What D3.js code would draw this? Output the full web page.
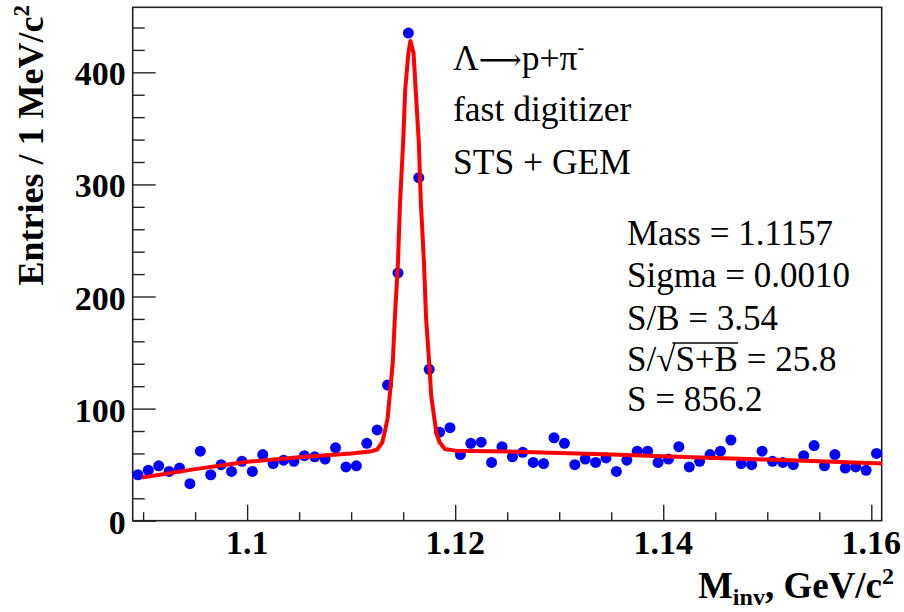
<!DOCTYPE html>
<html>
<head>
<meta charset="utf-8">
<script src="https://cdn.jsdelivr.net/npm/d3@7"></script>
<style>
  body { margin: 0; background: #fff; }
  svg { display: block; }
  text { font-family: "Liberation Serif", "Times New Roman", serif; fill: #000; }
</style>
</head>
<body>
<svg width="904" height="612"></svg>
<script>
// invariant mass bin centres (GeV/c^2), 1 MeV bins
var binMass = [
    1.0895, 1.0905, 1.0915, 1.0925, 1.0935, 1.0945, 1.0955, 1.0965, 1.0975, 1.0985,
    1.0995, 1.1005, 1.1015, 1.1025, 1.1035, 1.1045, 1.1055, 1.1065, 1.1075, 1.1085,
    1.1095, 1.1105, 1.1115, 1.1125, 1.1135, 1.1145, 1.1155, 1.1165, 1.1175, 1.1185,
    1.1195, 1.1205, 1.1215, 1.1225, 1.1235, 1.1245, 1.1255, 1.1265, 1.1275, 1.1285,
    1.1295, 1.1305, 1.1315, 1.1325, 1.1335, 1.1345, 1.1355, 1.1365, 1.1375, 1.1385,
    1.1395, 1.1405, 1.1415, 1.1425, 1.1435, 1.1445, 1.1455, 1.1465, 1.1475, 1.1485,
    1.1495, 1.1505, 1.1515, 1.1525, 1.1535, 1.1545, 1.1555, 1.1565, 1.1575, 1.1585,
    1.1595, 1.1605
];

var binEntries = [
    41, 45, 49, 44, 47, 33, 62, 41, 50, 44,
    53, 44, 59, 51, 54, 53, 58, 57, 55, 65,
    48, 49, 69, 81, 121, 221, 435, 306, 135, 79,
    83, 59, 69, 70, 52, 66, 57, 61, 52, 51,
    74, 69, 50, 55, 52, 56, 44, 54, 62, 62,
    52, 55, 66, 48, 53, 59, 62, 72, 51, 50,
    62, 53, 52, 50, 58, 67, 49, 59, 47, 48,
    45, 60
];

// fit curve
var fitMass = [
    1.0899, 1.0950, 1.1000, 1.1050, 1.1100, 1.1120, 1.1125, 1.1130, 1.1132, 1.1135,
    1.1137, 1.1140, 1.1142, 1.1145, 1.1147, 1.1150, 1.1152, 1.1155, 1.1157, 1.1160,
    1.1162, 1.1165, 1.1167, 1.1170, 1.1172, 1.1175, 1.1177, 1.1180, 1.1182, 1.1185,
    1.1190, 1.1200, 1.1250, 1.1300, 1.1350, 1.1400, 1.1450, 1.1500, 1.1550, 1.1610
];
var fitEntries = [
    38.5, 46, 52.5, 56.5, 60, 62, 63.5, 70, 78, 91,
    111, 141, 181, 230, 284, 338, 385, 417, 428, 417,
    385, 338, 284, 230, 181, 141, 111, 91, 78, 70,
    64, 62.5, 61.8, 60.5, 59, 57.5, 56, 54.5, 53, 51
];

var xMajor = [1.10, 1.12, 1.14, 1.16];
var xMinor = [1.09, 1.095, 1.105, 1.11, 1.115, 1.125, 1.13, 1.135, 1.145, 1.15, 1.155];
var yMajor = [0, 100, 200, 300, 400];

var decayLines = ["fast digitizer", "STS + GEM"];
var fitResults = ["Mass = 1.1157", "Sigma = 0.0010", "S/B = 3.54", "S/\u221AS+B = 25.8", "S = 856.2"];

var svg = d3.select("svg");

var frame = { left: 132.7, top: 7.3, right: 881.7, bottom: 520.7 };

var x = d3.scaleLinear().domain([1.089, 1.161]).range([frame.left, frame.right]);
var y = d3.scaleLinear().domain([0, 458]).range([frame.bottom, frame.top]);

var g = svg.append("g");

// axes: ticks pointing inward like ROOT
var xAxisMajor = d3.axisTop(x).tickValues(xMajor).tickSize(16).tickFormat("");
var xAxisMinor = d3.axisTop(x).tickValues(xMinor).tickSize(8.5).tickFormat("");
var yAxisMajor = d3.axisRight(y).tickValues(yMajor).tickSize(23).tickFormat("");
var yAxisMinor = d3.axisRight(y).tickValues(d3.range(20, 460, 20).filter(function (d) { return d % 100 !== 0; }))
    .tickSize(12).tickFormat("");

[xAxisMajor, xAxisMinor].forEach(function (ax) {
    g.append("g").attr("transform", "translate(0," + frame.bottom + ")").call(ax)
        .call(function (s) { s.select(".domain").remove(); });
});
[yAxisMajor, yAxisMinor].forEach(function (ax) {
    g.append("g").attr("transform", "translate(" + frame.left + ",0)").call(ax)
        .call(function (s) { s.select(".domain").remove(); });
});
g.selectAll(".tick line").attr("stroke", "#222").attr("stroke-width", 1.4);

g.append("rect")
    .attr("x", frame.left).attr("y", frame.top)
    .attr("width", frame.right - frame.left).attr("height", frame.bottom - frame.top)
    .attr("fill", "none").attr("stroke", "#222").attr("stroke-width", 1.6);

// tick labels
g.selectAll(".xlab")
    .data(xMajor)
    .enter().append("text")
    .attr("x", function (d) { return x(d); })
    .attr("y", frame.bottom + 33)
    .attr("text-anchor", "middle")
    .attr("font-size", 34)
    .attr("font-weight", "bold")
    .text(function (d) { return d3.format("")(+d.toFixed(2)); });

g.selectAll(".ylab")
    .data(yMajor)
    .enter().append("text")
    .attr("x", frame.left - 7)
    .attr("y", function (d) { return y(d) + 13; })
    .attr("text-anchor", "end")
    .attr("font-size", 34)
    .attr("font-weight", "bold")
    .text(function (d) { return d; });

// axis titles
var yTitle = g.append("text")
    .attr("transform", "translate(43,5) rotate(-90)")
    .attr("text-anchor", "end")
    .attr("font-size", 36)
    .attr("font-weight", "bold");
yTitle.append("tspan").text("Entries / 1 MeV/c");
yTitle.append("tspan").attr("font-size", 23).attr("dy", -14).text("2");

var xTitle = g.append("text")
    .attr("x", 894).attr("y", 598)
    .attr("text-anchor", "end")
    .attr("font-size", 37)
    .attr("font-weight", "bold");
xTitle.append("tspan").text("M");
xTitle.append("tspan").attr("font-size", 24).attr("dy", 7).text("inv");
xTitle.append("tspan").attr("dy", -7).text(", GeV/c");
xTitle.append("tspan").attr("font-size", 24).attr("dy", -14).text("2");

// data points
g.append("g")
    .selectAll("circle")
    .data(binMass)
    .enter().append("circle")
    .attr("cx", function (d) { return x(d); })
    .attr("cy", function (d, i) { return y(binEntries[i]); })
    .attr("r", 5.5)
    .attr("fill", "#0000ff");

// fit
var line = d3.line()
    .x(function (d) { return x(d); })
    .y(function (d, i) { return y(fitEntries[i]); });

g.append("path")
    .attr("d", line(fitMass))
    .attr("fill", "none")
    .attr("stroke", "#ff0000")
    .attr("stroke-width", 4)
    .attr("stroke-linejoin", "round");

// labels
var decay = g.append("text")
    .attr("x", 453).attr("y", 70)
    .attr("font-size", 35.5);
decay.append("tspan").text("\u039B");
decay.append("tspan").attr("font-family", "DejaVu Serif").attr("font-size", 30).text("\u27F6");
decay.append("tspan").text("p+\u03C0");
decay.append("tspan").attr("font-size", 20).attr("dy", -16).text("-");

g.selectAll(".decayLine")
    .data(decayLines)
    .enter().append("text")
    .attr("x", 453)
    .attr("y", function (d, i) { return 121 + i * 53; })
    .attr("font-size", 35.5)
    .text(function (d) { return d; });

var resultY = [245, 287, 330, 371, 411];
var results = g.selectAll(".result")
    .data(fitResults)
    .enter().append("text")
    .attr("x", 627)
    .attr("y", function (d, i) { return resultY[i]; })
    .attr("font-size", 35)
    .text(function (d) { return d; });

// overline for the square root
var sqrtNode = results.filter(function (d, i) { return i === 3; }).node();
var x0 = sqrtNode.getEndPositionOfChar(2).x - 3;
var x1 = sqrtNode.getEndPositionOfChar(5).x;
g.append("line")
    .attr("x1", x0).attr("x2", x1)
    .attr("y1", resultY[3] - 28).attr("y2", resultY[3] - 28)
    .attr("stroke", "#000").attr("stroke-width", 1.3);
</script>
</body>
</html>
